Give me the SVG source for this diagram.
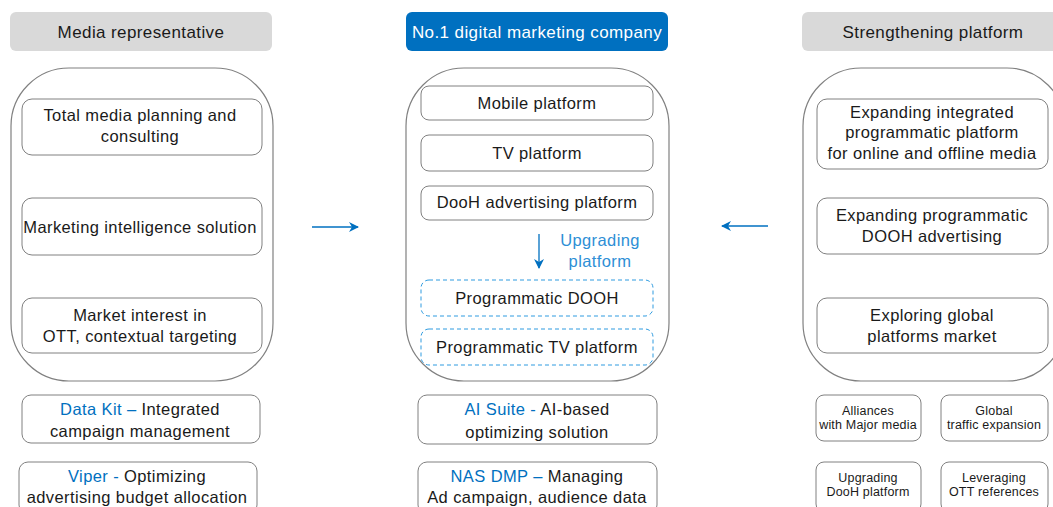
<svg xmlns="http://www.w3.org/2000/svg" width="1053" height="507" viewBox="0 0 1053 507">
<defs>
<style>
.t{font-family:"Liberation Sans",Arial,sans-serif;font-size:16.5px;letter-spacing:0.4px;fill:#1a1a1a;text-anchor:middle}
.h{font-family:"Liberation Sans",Arial,sans-serif;font-size:17px;letter-spacing:0.4px;fill:#1a1a1a;text-anchor:middle}
.s{font-family:"Liberation Sans",Arial,sans-serif;font-size:12.5px;letter-spacing:0.2px;fill:#1a1a1a;text-anchor:middle}
.b{fill:#0070c0}
.hdr{fill:#d9d9d9}
.big{fill:#fff;stroke:#808080;stroke-width:1.2}
.box{fill:#fff;stroke:#808080;stroke-width:1}
.dash{fill:#fff;stroke:#2e9be0;stroke-width:1;stroke-dasharray:4 3}
.arr{stroke:#0070c0;stroke-width:1.3;fill:none}
</style>
<marker id="ah" viewBox="0 0 10 10" refX="9" refY="5" markerWidth="10" markerHeight="10" orient="auto" markerUnits="userSpaceOnUse">
<path d="M0,0 L10,5 L0,10 L3,5 Z" fill="#0070c0"/>
</marker>
</defs>
<rect width="1053" height="507" fill="#fff"/>

<g id="left">
<g id="hdr-left"><rect class="hdr" x="10" y="12" width="262" height="39" rx="6"/><text class="h" x="141" y="38">Media representative</text></g>
<g id="panel-left"><rect class="big" x="11" y="68" width="262" height="313" rx="58"/></g>
<g id="l1"><rect class="box" x="22" y="99" width="240" height="56" rx="10"/><text class="t" x="140" y="121">Total media planning and</text><text class="t" x="140" y="142">consulting</text></g>
<g id="l2"><rect class="box" x="22" y="198" width="240" height="57" rx="10"/><text class="t" x="140" y="233">Marketing intelligence solution</text></g>
<g id="l3"><rect class="box" x="22" y="298" width="240" height="55" rx="10"/><text class="t" x="140" y="321">Market interest in</text><text class="t" x="140" y="342">OTT, contextual targeting</text></g>
<g id="l4"><rect class="box" x="22" y="395" width="238" height="48" rx="9"/><text class="t" x="140" y="415"><tspan class="b">Data Kit – </tspan>Integrated</text><text class="t" x="140" y="437">campaign management</text></g>
<g id="l5"><rect class="box" x="19" y="462" width="238" height="52" rx="9"/><text class="t" x="137" y="482"><tspan class="b">Viper - </tspan>Optimizing</text><text class="t" x="137" y="503">advertising budget allocation</text></g>
</g>

<g id="center">
<g id="hdr-center"><rect x="406" y="12" width="262" height="39" rx="6" fill="#0070c0"/><text class="h" x="537" y="38" style="fill:#fff">No.1 digital marketing company</text></g>
<g id="panel-center"><rect class="big" x="406" y="68" width="263" height="313" rx="58"/></g>
<g id="c1"><rect class="box" x="421" y="86" width="232" height="34" rx="8"/><text class="t" x="537" y="109">Mobile platform</text></g>
<g id="c2"><rect class="box" x="421" y="135" width="232" height="36" rx="8"/><text class="t" x="537" y="159">TV platform</text></g>
<g id="c3"><rect class="box" x="421" y="186" width="232" height="34" rx="8"/><text class="t" x="537" y="208">DooH advertising platform</text></g>
<g id="c-up"><text class="t" x="600" y="246" style="fill:#2e8fd6">Upgrading</text><text class="t" x="600" y="267" style="fill:#2e8fd6">platform</text></g>
<g id="c4"><rect class="dash" x="421" y="280" width="232" height="36" rx="8"/><text class="t" x="537" y="304">Programmatic DOOH</text></g>
<g id="c5"><rect class="dash" x="421" y="329" width="232" height="36" rx="8"/><text class="t" x="537" y="353">Programmatic TV platform</text></g>
<g id="c6"><rect class="box" x="418" y="395" width="239" height="49" rx="9"/><text class="t" x="537" y="415"><tspan class="b">AI Suite - </tspan>AI-based</text><text class="t" x="537" y="438">optimizing solution</text></g>
<g id="c7"><rect class="box" x="418" y="462" width="239" height="52" rx="9"/><text class="t" x="537" y="482"><tspan class="b">NAS DMP – </tspan>Managing</text><text class="t" x="537" y="503">Ad campaign, audience data</text></g>
</g>

<g id="right">
<g id="hdr-right"><rect class="hdr" x="802" y="12" width="262" height="39" rx="6"/><text class="h" x="933" y="38">Strengthening platform</text></g>
<g id="panel-right"><rect class="big" x="803" y="68" width="262" height="313" rx="58"/></g>
<g id="r1"><rect class="box" x="817" y="99" width="231" height="70" rx="10"/><text class="t" x="932" y="118">Expanding integrated</text><text class="t" x="932" y="138">programmatic platform</text><text class="t" x="932" y="159">for online and offline media</text></g>
<g id="r2"><rect class="box" x="817" y="198" width="231" height="56" rx="10"/><text class="t" x="932" y="221">Expanding programmatic</text><text class="t" x="932" y="242">DOOH advertising</text></g>
<g id="r3"><rect class="box" x="817" y="298" width="231" height="55" rx="10"/><text class="t" x="932" y="321">Exploring global</text><text class="t" x="932" y="342">platforms market</text></g>
<g id="r4"><rect class="box" x="816" y="395" width="105" height="46" rx="8"/><text class="s" x="868" y="415">Alliances</text><text class="s" x="868" y="429">with Major media</text></g>
<g id="r5"><rect class="box" x="941" y="395" width="107" height="46" rx="8"/><text class="s" x="994" y="415">Global</text><text class="s" x="994" y="429">traffic expansion</text></g>
<g id="r6"><rect class="box" x="816" y="462" width="105" height="50" rx="8"/><text class="s" x="868" y="482">Upgrading</text><text class="s" x="868" y="496">DooH platform</text></g>
<g id="r7"><rect class="box" x="941" y="462" width="107" height="50" rx="8"/><text class="s" x="994" y="482">Leveraging</text><text class="s" x="994" y="496">OTT references</text></g>
</g>

<g id="connectors">
<line class="arr" x1="312" y1="227" x2="358" y2="227" marker-end="url(#ah)"/>
<line class="arr" x1="768" y1="226" x2="722" y2="226" marker-end="url(#ah)"/>
<line class="arr" x1="539" y1="234" x2="539" y2="268" marker-end="url(#ah)"/>
</g>
</svg>
